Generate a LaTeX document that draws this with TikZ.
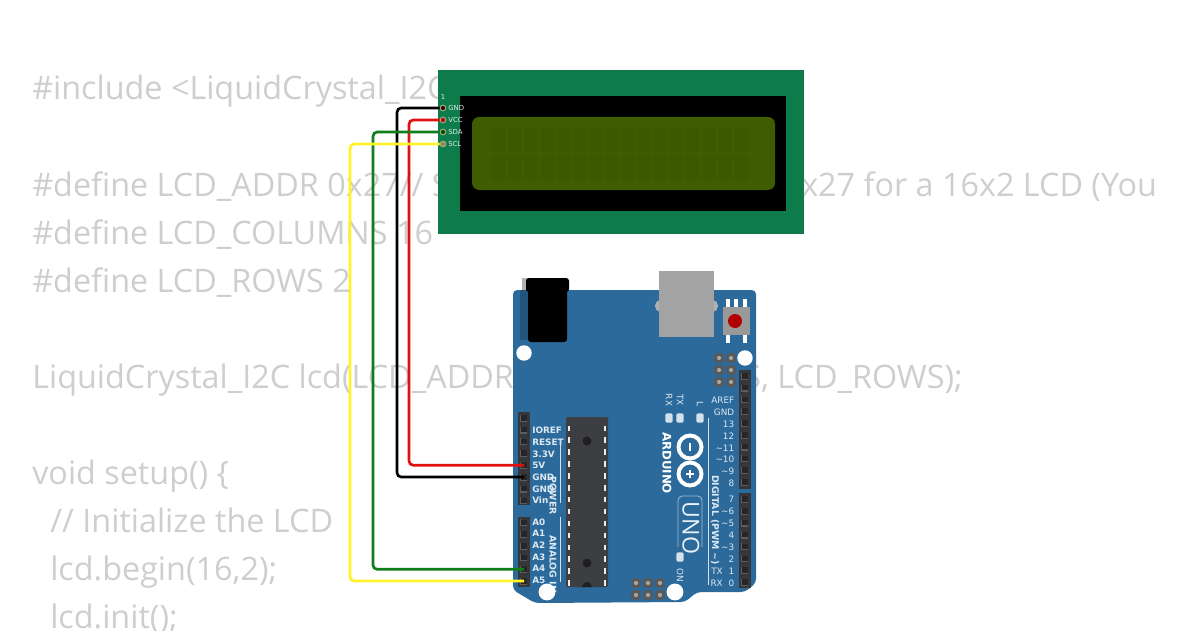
\documentclass[tikz,border=0pt]{standalone}
\usepackage{fontspec}
\setmainfont{Open Sans}
\newfontfamily\boardfont{DejaVu Sans}
\definecolor{codegray}{HTML}{CECECE}
\definecolor{lcdgreen}{HTML}{0E7C4A}
\definecolor{lcdscreen}{HTML}{3F5C00}
\definecolor{lcdcell}{HTML}{3C5800}
\definecolor{unoblue}{HTML}{2B6A9B}
\definecolor{unolabel}{HTML}{DCE8F2}
\definecolor{headerdark}{HTML}{35373A}
\definecolor{pinface}{HTML}{5C5D5E}
\definecolor{chipdark}{HTML}{3C3E42}
\definecolor{usbgray}{HTML}{A3A3A3}
\definecolor{wiregreen}{HTML}{0F7D1C}
\definecolor{wirered}{HTML}{E01010}
\definecolor{wireyellow}{HTML}{FFF22A}
\tikzset{
  codeline/.style={anchor=base west,inner sep=0pt,text=codegray,font=\fontsize{23}{28}\selectfont},
  wire/.style={line width=1.9pt,rounded corners=3pt},
  lcdpin/.style={circle,draw=white!50!lcdgreen!60!brown,line width=0.8pt,inner sep=0pt,minimum size=4pt},
  lcdlabel/.style={anchor=west,inner sep=0pt,text=white!85!lcdgreen,font=\boardfont\fontsize{4.9}{5}\selectfont},
  unopin/.style={rectangle,fill=black!85,inner sep=0pt,minimum size=4.2pt},
  boldlabel/.style={anchor=west,inner sep=0pt,text=unolabel,font=\boardfont\bfseries\fontsize{6.3}{7}\selectfont},
  digilabel/.style={anchor=east,inner sep=0pt,text=unolabel,font=\boardfont\fontsize{6.3}{7}\selectfont},
  sidelabel/.style={inner sep=0pt,rotate=-90,text=unolabel,font=\boardfont\fontsize{6.3}{7}\selectfont},
  sidebold/.style={inner sep=0pt,rotate=-90,text=unolabel,font=\boardfont\bfseries\fontsize{6.6}{7}\selectfont},
  hole/.style={circle,fill=white,inner sep=0pt,minimum size=#1},
  led/.style={rectangle,rounded corners=0.8pt,fill=white!80!unoblue,inner sep=0pt,minimum width=5pt,minimum height=6.5pt},
  icsp/.style={rectangle,rounded corners=1pt,fill=black!65,inner sep=0pt,minimum size=6.6pt},
  icspdot/.style={circle,fill=gray!70,inner sep=0pt,minimum size=3pt}
}
\begin{document}
\begin{tikzpicture}[x=0.025cm,y=0.025cm]
\useasboundingbox (0,0) rectangle (1200,-630);
% code behind the parts
\begin{scope}
\clip (0,0) rectangle (1167,-630);
\node [codeline] (incl) at (32,-100) {\#include <LiquidCrystal\_I2C.h>};
\node [codeline] (addr) at (32,-196) {\#define LCD\_ADDR 0x27// S};
\node [codeline] (addrb) at (801,-196) {x27 for a 16x2 LCD (You may};
\node [codeline] (cols) at (32,-244) {\#define LCD\_COLUMNS 16};
\node [codeline] (rows) at (32,-292) {\#define LCD\_ROWS 2};
\node [codeline] (ctor) at (32,-388) {LiquidCrystal\_I2C lcd(LCD\_ADDR, LCD\_COLUMNS, LCD\_ROWS);};
\node [codeline] (setup) at (32,-484) {void setup() \{};
\node [codeline] (cmt) at (50,-532) {// Initialize the LCD};
\node [codeline] (beg) at (50,-580) {lcd.begin(16,2);};
\node [codeline] (init) at (50,-628) {lcd.init();};
\end{scope}
% lcd
\fill [lcdgreen] (438,-70) rectangle (804,-234);
\fill [black] (460,-96) rectangle (786,-211);
\fill [lcdscreen,rounded corners=5pt] (472,-117) rectangle (775,-190);
\foreach \c in {0,...,15} {
  \fill [lcdcell] ({492+16.2*\c},-127) rectangle ({505+16.2*\c},-152);
  \fill [lcdcell] ({492+16.2*\c},-155) rectangle ({505+16.2*\c},-180);
}
\node [lcdlabel] (lcdone) at (440.5,-97) {1};
\node [lcdpin,fill=black!80!red] (lcdgnd) at (443,-108) {};
\node [lcdpin,fill=red!70!black] (lcdvcc) at (443,-120) {};
\node [lcdpin,fill=green!30!black] (lcdsda) at (443,-132) {};
\node [lcdpin,fill=yellow!50!black] (lcdscl) at (443,-144) {};
\node [lcdlabel] (lblgnd) at (448,-108) {GND};
\node [lcdlabel] (lblvcc) at (448,-120) {VCC};
\node [lcdlabel] (lblsda) at (448,-132) {SDA};
\node [lcdlabel] (lblscl) at (448,-144) {SCL};
% uno board
\fill [unoblue,rounded corners=3pt] (513,-290) -- (756,-290) -- (756,-583) -- (745,-592) -- (697,-592) -- (685,-602) -- (535,-603) -- (513,-590) -- cycle;
% jack, usb, reset
\fill [gray!60] (522,-278) rectangle (530,-290);
\fill [unoblue!80!black] (520,-290) rectangle (530,-340);
\fill [black,rounded corners=2pt] (526,-278) rectangle (569,-292);
\fill [black,rounded corners=2pt] (528,-285) rectangle (567,-342);
\fill [usbgray!85,rounded corners=4pt] (655,-300) rectangle (718,-312);
\fill [usbgray] (659,-271) rectangle (714,-337);
\fill [white] (726,-299) rectangle (730,-307);
\fill [white] (734,-299) rectangle (738,-307);
\fill [white] (743,-299) rectangle (747,-307);
\fill [white] (726,-335) rectangle (730,-343);
\fill [white] (743,-335) rectangle (747,-343);
\fill [gray!80] (723,-307) rectangle (750,-335);
\fill [red!70!black] (735,-321) circle (7);
% headers
\fill [headerdark] (518,-412) rectangle (530,-505);
\fill [headerdark] (518,-517) rectangle (530,-587);
\fill [headerdark] (739,-370) rectangle (751,-489);
\fill [headerdark] (739,-493) rectangle (751,-588);
\foreach \i in {0,...,7} {
  \node [unopin] (pw\i) at (524,{-418-11.8*\i}) {};
  \draw [pinface,line width=0.9pt] (pw\i.north west) -- (pw\i.south west) -- (pw\i.south east);
}
\foreach \i in {0,...,5} {
  \node [unopin] (an\i) at (524,{-522.5-11.7*\i}) {};
  \draw [pinface,line width=0.9pt] (an\i.north west) -- (an\i.south west) -- (an\i.south east);
}
\foreach \i in {0,...,9} {
  \node [unopin] (dh\i) at (745,{-376-11.8*\i}) {};
  \draw [pinface,line width=0.9pt] (dh\i.north west) -- (dh\i.south west) -- (dh\i.south east);
}
\foreach \i in {0,...,7} {
  \node [unopin] (dl\i) at (745,{-499-11.9*\i}) {};
  \draw [pinface,line width=0.9pt] (dl\i.north west) -- (dl\i.south west) -- (dl\i.south east);
}
% chip
\fill [chipdark,rounded corners=1pt] (566,-417) rectangle (608,-587);
\foreach \i in {0,...,13} {
  \fill [white!85!gray] (568,{-425.5-11.9*\i}) rectangle (570,{-431-11.9*\i});
  \fill [white!85!gray] (604,{-425.5-11.9*\i}) rectangle (606,{-431-11.9*\i});
}
\fill [black!88] (587,-441) circle (4.5);
\fill [black!88] (587,-563) circle (4.5);
\fill [black!88] (582,-587) arc (180:0:5) -- cycle;
% icsp
\foreach \x in {719,731}
  \foreach \y in {358,370,382} {
    \node [icsp] (top\x\y) at (\x,-\y) {};
    \node [icspdot] (dot\x\y) at (\x,-\y) {};
  }
\foreach \x in {636,648,660}
  \foreach \y in {583,595} {
    \node [icsp] (bot\x\y) at (\x,-\y) {};
    \node [icspdot] (dot\x\y) at (\x,-\y) {};
  }
% left labels
\node [boldlabel] (lioref) at (532,-430) {IOREF};
\node [boldlabel] (lreset) at (532,-442) {RESET};
\node [boldlabel] (lthree) at (532,-454) {3.3V};
\node [boldlabel] (lfive) at (532,-465) {5V};
\node [boldlabel] (lgnda) at (532,-477) {GND};
\node [boldlabel] (lgndb) at (532,-489) {GND};
\node [boldlabel] (lvin) at (532,-500) {Vin};
\foreach \i in {0,...,5}
  \node [boldlabel] (la\i) at (532,{-522-11.6*\i}) {A\i};
\node [sidebold] (lpower) at (553,-495.5) {POWER};
\node [sidebold] (lanalog) at (553,-564) {ANALOG IN};
\draw [white!80!unoblue,line width=0.6pt] (560,-443) -- (560,-503);
\draw [white!80!unoblue,line width=0.6pt] (560,-517) -- (560,-582);
% right labels
\node [digilabel] (laref) at (734.5,-400) {AREF};
\node [digilabel] (lgndc) at (734.5,-412) {GND};
\node [digilabel] (ld13) at (734.5,-424) {13};
\node [digilabel] (ld12) at (734.5,-436) {12};
\node [digilabel] (ld11) at (734.5,-448) {\textasciitilde 11};
\node [digilabel] (ld10) at (734.5,-459) {\textasciitilde 10};
\node [digilabel] (ld9) at (734.5,-471) {\textasciitilde 9};
\node [digilabel] (ld8) at (734.5,-483) {8};
\node [digilabel] (ld7) at (734.5,-499) {7};
\node [digilabel] (ld6) at (734.5,-511) {\textasciitilde 6};
\node [digilabel] (ld5) at (734.5,-523) {\textasciitilde 5};
\node [digilabel] (ld4) at (734.5,-535) {4};
\node [digilabel] (ld3) at (734.5,-547) {\textasciitilde 3};
\node [digilabel] (ld2) at (734.5,-559) {2};
\node [digilabel] (ld1) at (734.5,-571) {1};
\node [digilabel] (ld0) at (734.5,-583) {0};
\node [digilabel] (ltx) at (723,-571) {TX};
\node [digilabel] (lrx) at (723,-583) {RX};
\node [sidebold] (ldigital) at (715,-520) {DIGITAL (PWM \textasciitilde)};
\draw [white!80!unoblue,line width=0.6pt] (708,-418) -- (708,-585);
% leds
\node [led] (ledrx) at (669,-418) {};
\node [led] (ledtx) at (680,-418) {};
\node [led] (ledl) at (700,-418) {};
\node [led] (ledon) at (680,-557) {};
\node [sidelabel] (lrxs) at (669,-400) {RX};
\node [sidelabel] (ltxs) at (680,-400) {TX};
\node [sidelabel] (lls) at (700,-404) {L};
\node [sidelabel] (lons) at (680,-575) {ON};
% logo
\node [inner sep=0pt,rotate=-90,text=white,font=\boardfont\bfseries\fontsize{8.4}{10}\selectfont] (lard) at (667,-463) {ARDUINO};
\draw [white,line width=2.8pt] (690,-447) circle (11.5);
\draw [white,line width=2.8pt] (690,-474) circle (11.5);
\draw [white,line width=1.5pt] (690,-443) -- (690,-451);
\draw [white,line width=1.5pt] (690,-470) -- (690,-478) (686,-474) -- (694,-474);
\draw [white!55!unoblue,line width=0.6pt,rounded corners=3pt] (678,-547) -- (678,-496) -- (702,-496) -- (702,-547);
\node [inner sep=0pt,rotate=-90,text=white!90!unoblue,font=\fontsize{16.5}{20}\selectfont] (luno) at (691,-528) {UNO};
% mounting holes
\node [hole=11pt] (holea) at (524,-353) {};
\node [hole=11pt] (holeb) at (745,-358) {};
\node [hole=12pt] (holec) at (547,-592) {};
\node [hole=12pt] (holed) at (675,-592) {};
% wires
\draw [wire,black] (lcdgnd) -- ++(-46,0) |- (pw5.center);
\draw [wire,wirered] (lcdvcc) -- ++(-34,0) |- (pw4.center);
\draw [wire,wiregreen] (lcdsda) -- ++(-70,0) |- (an4.center);
\draw [wire,wireyellow] (lcdscl) -- ++(-93,0) |- (an5.center);
\end{tikzpicture}
\end{document}
